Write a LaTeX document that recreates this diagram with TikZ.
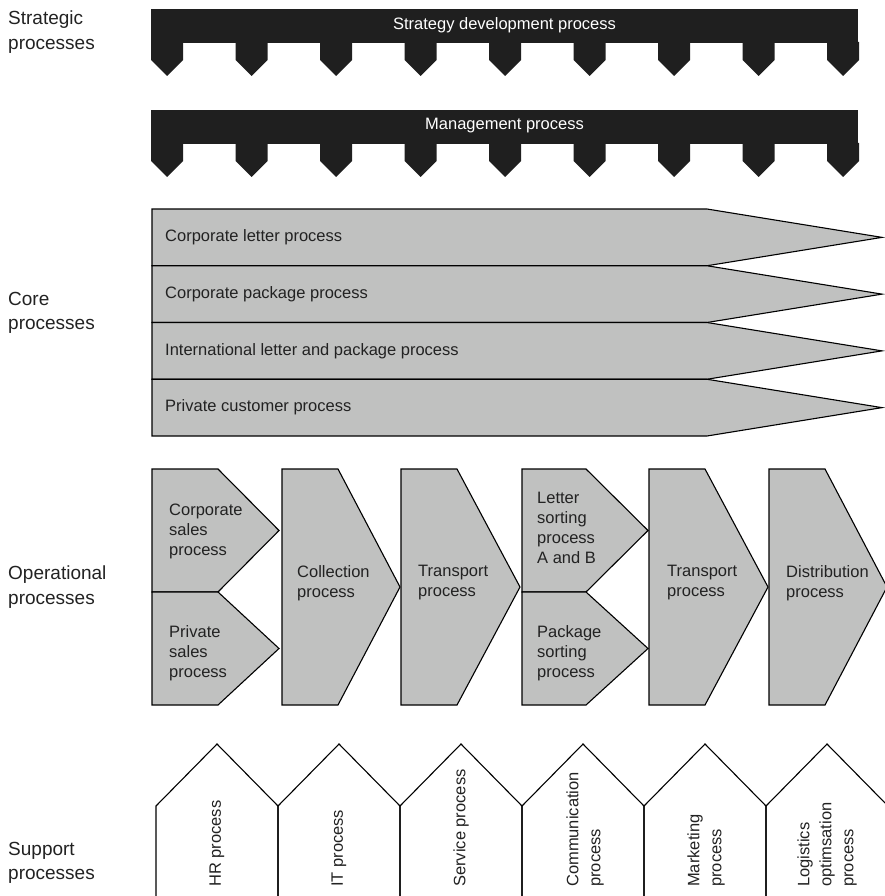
\documentclass[tikz,border=0pt]{standalone}
\usepackage{fontspec}
\setmainfont{Liberation Sans}
\begin{document}
\begin{tikzpicture}[x=1pt,y=-1pt,
  bar/.style={fill=barfill,draw=none},
  shapebox/.style={fill=boxfill,draw=black,line width=1.1pt,line join=miter},
  housebox/.style={draw=black,line width=1.1pt,line join=miter},
  rowlabel/.style={anchor=north west,align=left,inner sep=0pt,text=txt,
    font=\fontsize{19}{24.5}\selectfont},
  barlabel/.style={inner sep=0pt,text=white,font=\fontsize{16.5}{20}\selectfont},
  boxlabel/.style={inner sep=0pt,text=txt,align=left,font=\fontsize{16.5}{20}\selectfont},
  vlabel/.style={rotate=90,anchor=west,inner sep=0pt,text=txt,align=left,
    font=\fontsize{16.5}{22}\selectfont}]
\definecolor{barfill}{RGB}{31,31,31}
\definecolor{boxfill}{RGB}{192,193,192}
\definecolor{txt}{RGB}{34,34,34}
\useasboundingbox (0,0) rectangle (885,896);
\clip (0,0) rectangle (885,896);

% ---- strategic bars with teeth ----
\foreach \top/\name in {9/strat,110/mgmt}{
  \fill[bar] (151,\top) rectangle (858,\top+34);
  \foreach \i in {0,...,8}{
    \pgfmathsetmacro\xa{151+84.5*\i}
    \fill[bar] (\xa,\top+33) -- (\xa+32,\top+33) -- (\xa+32,\top+51)
      -- (\xa+16,\top+67) -- (\xa,\top+51) -- cycle;
  }
}
\node[barlabel] (stratlbl) at (504.5,25) {Strategy development process};
\node[barlabel] (mgmtlbl) at (504.5,126) {Management process};

% ---- core process arrows ----
\foreach \t/\b/\name in {209/265.75/c1,265.75/322.5/c2,322.5/379.25/c3,379.25/436/c4}{
  \draw[shapebox] (152,\t) -- (707,\t) -- (882,{(\t+\b)/2}) -- (707,\b)
    -- (152,\b) -- cycle;
}
\node[boxlabel,anchor=west] (core1) at (165,237.4) {Corporate letter process};
\node[boxlabel,anchor=west] (core2) at (165,294.1) {Corporate package process};
\node[boxlabel,anchor=west] (core3) at (165,350.9) {International letter and package process};
\node[boxlabel,anchor=west] (core4) at (165,407.6) {Private customer process};

% ---- operational chevrons ----
% left edge, top, bottom, shoulder, tip
\foreach \l/\t/\b/\s/\p in {152/469/592/218/279, 152/592/705/218/279,
    282/469/705/338/400, 401/469/705/457/520,
    522/469/592/586/648, 522/592/705/586/648,
    649/469/705/705/768, 769/469/705/825/887}{
  \draw[shapebox] (\l,\t) -- (\s,\t) -- (\p,{(\t+\b)/2}) -- (\s,\b)
    -- (\l,\b) -- cycle;
}
\node[boxlabel,anchor=north west] (op1) at (169,504) {Corporate\\sales\\process};
\node[boxlabel,anchor=north west] (op2) at (169,625) {Private\\sales\\process};
\node[boxlabel,anchor=north west] (op3) at (297,565) {Collection\\process};
\node[boxlabel,anchor=north west] (op4) at (418,565) {Transport\\process};
\node[boxlabel,anchor=north west] (op5) at (537,492) {Letter\\sorting\\process\\A and B};
\node[boxlabel,anchor=north west] (op6) at (537,625) {Package\\sorting\\process};
\node[boxlabel,anchor=north west] (op7) at (667,565) {Transport\\process};
\node[boxlabel,anchor=north west] (op8) at (786,565) {Distribution\\process};

% ---- support houses ----
\foreach \i in {0,...,5}{
  \pgfmathsetmacro\xa{156+122*\i}
  \draw[housebox] (\xa,900) -- (\xa,806) -- (\xa+61,744) -- (\xa+122,806)
    -- (\xa+122,900);
}
\node[vlabel] (sup1) at (217,887) {HR process};
\node[vlabel] (sup2) at (339,887) {IT process};
\node[vlabel] (sup3) at (461,887) {Service process};
\node[vlabel] (sup4) at (585,887) {Communication\\process};
\node[vlabel] (sup5) at (706,887) {Marketing\\process};
\node[vlabel] (sup6) at (827,887) {Logistics\\optimsation\\process};

% ---- row captions ----
\node[rowlabel] (lstrat) at (8,11) {Strategic\\processes};
\node[rowlabel] (lcore) at (8,292) {Core\\processes};
\node[rowlabel] (lop) at (8,566) {Operational\\processes};
\node[rowlabel] (lsup) at (8,842) {Support\\processes};
\end{tikzpicture}
\end{document}
